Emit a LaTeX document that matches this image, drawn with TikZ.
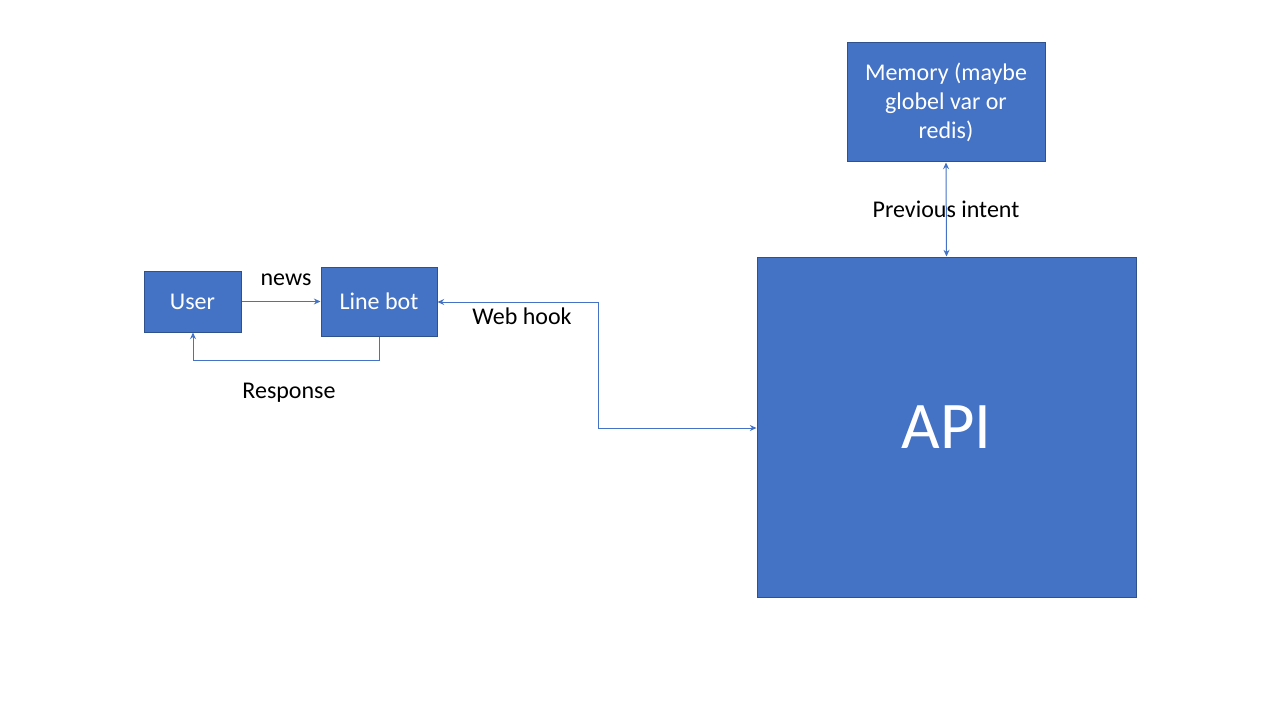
\documentclass[tikz,border=0pt]{standalone}
\usepackage{fontspec}
\setmainfont{Carlito}
\usetikzlibrary{arrows.meta}
\definecolor{boxfill}{HTML}{4472C4}
\definecolor{boxline}{HTML}{2F528F}
\definecolor{conn}{HTML}{4472C4}
\begin{document}
\begin{tikzpicture}[x=0.75pt,y=-0.75pt,
  box/.style={draw=boxline,line width=0.75pt,fill=boxfill,text=white,inner sep=0pt,align=center,font=\fontsize{18}{22}\selectfont},
  conn/.style={draw=conn,line width=0.75pt,-{Stealth[length=5pt,width=4.5pt]}},
  biconn/.style={draw=conn,line width=0.75pt,{Stealth[length=5pt,width=4.5pt]}-{Stealth[length=5pt,width=4.5pt]}},
  lbl/.style={text=black,inner sep=0pt,font=\fontsize{18}{22}\selectfont}]
\useasboundingbox (0,0) rectangle (1280,720);
\node[box,minimum width=97*0.75pt,minimum height=61*0.75pt] (user) at (192.5,301.5) {User};
\node[box,minimum width=116*0.75pt,minimum height=69*0.75pt] (bot) at (379,301.5) {Line bot};
\node[box,minimum width=198*0.75pt,minimum height=119*0.75pt,font=\fontsize{18}{21.5}\selectfont] (mem) at (946,102.5) {\rule{0pt}{0pt}\raisebox{-1.5pt}{\parbox{140pt}{\centering Memory (maybe\\globel var or\\redis)}}};
\node[box,minimum width=379*0.75pt,minimum height=340*0.75pt,font=\fontsize{50}{60}\selectfont] (api) at (946.5,427) {API};
\coordinate (r1) at (379,360);
\coordinate (r2) at (193,360);
\coordinate (w1) at (598,302);
\coordinate (w2) at (598,428);
\draw[conn] (user.east) -- (bot.west);
\draw[conn] (bot.south) -- (r1) -- (r2) -- (user.south -| r2);
\draw[biconn] (bot.east |- w1) -- (w1) -- (w2) -- (api.west |- w2);
\draw[biconn] (mem.south) -- (api.north);
\node[lbl] (news) at (286,279.5) {news};
\node[lbl] (resp) at (289,392.5) {Response};
\node[lbl] (hook) at (522,316) {Web hook};
\node[lbl] (prev) at (946,209) {Previous intent};
\end{tikzpicture}
\end{document}
